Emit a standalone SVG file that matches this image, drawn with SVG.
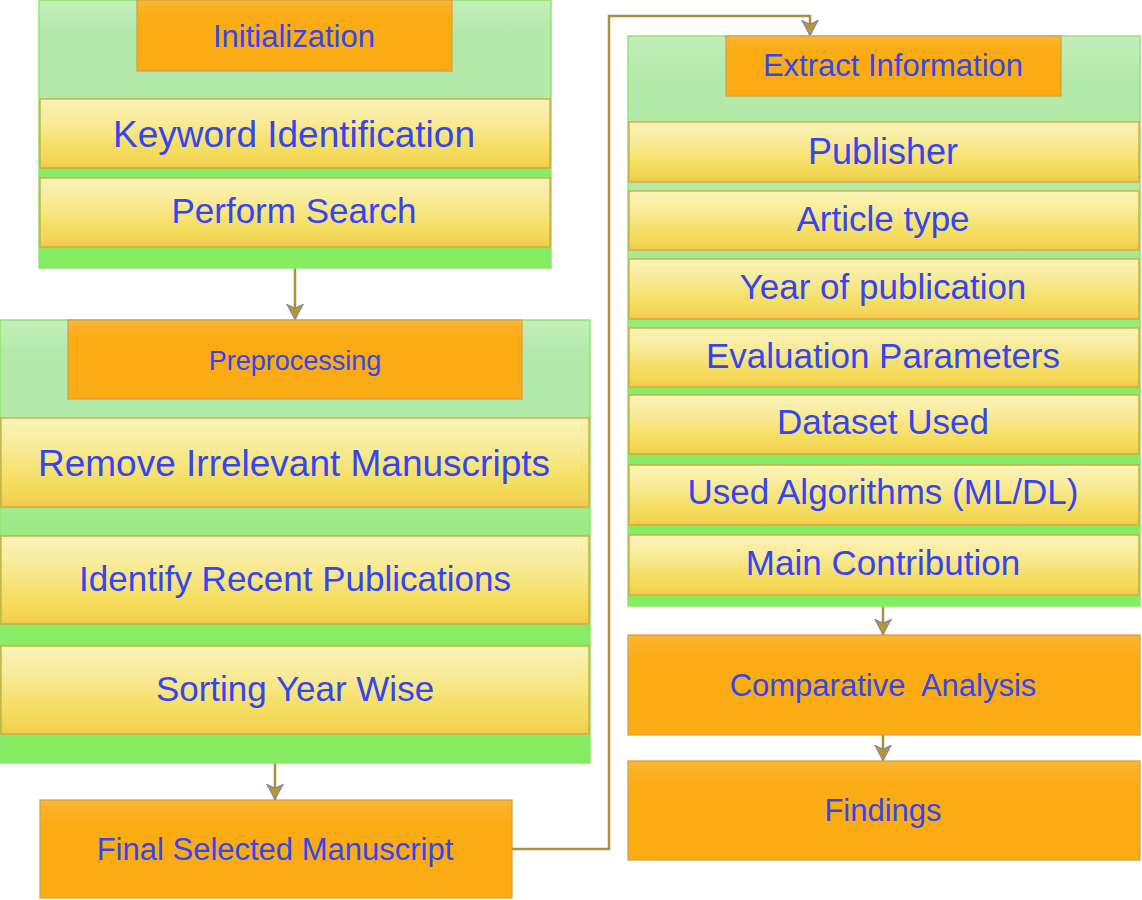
<svg xmlns="http://www.w3.org/2000/svg" width="1142" height="900" viewBox="0 0 1142 900">
  <defs>
    <!-- container backgrounds: pale green header fading to bright green -->
    <linearGradient id="gTop" x1="0" y1="0" x2="0" y2="1">
      <stop offset="0" stop-color="#c4eebb"/>
      <stop offset="0.12" stop-color="#b3e9a9"/>
      <stop offset="0.37" stop-color="#b3e9a9"/>
      <stop offset="0.6" stop-color="#88ec64"/>
      <stop offset="1" stop-color="#86ec62"/>
    </linearGradient>
    <linearGradient id="gPre" x1="0" y1="0" x2="0" y2="1">
      <stop offset="0" stop-color="#c4eebb"/>
      <stop offset="0.08" stop-color="#b3e9a9"/>
      <stop offset="0.22" stop-color="#b3e9a9"/>
      <stop offset="0.7" stop-color="#88ec64"/>
      <stop offset="1" stop-color="#86ec62"/>
    </linearGradient>
    <linearGradient id="gExt" x1="0" y1="0" x2="0" y2="1">
      <stop offset="0" stop-color="#c4eebb"/>
      <stop offset="0.08" stop-color="#b3e9a9"/>
      <stop offset="0.28" stop-color="#b3e9a9"/>
      <stop offset="0.62" stop-color="#88ec64"/>
      <stop offset="1" stop-color="#86ec62"/>
    </linearGradient>
    <!-- yellow step bands -->
    <linearGradient id="gBand" x1="0" y1="0" x2="0" y2="1">
      <stop offset="0" stop-color="#fbf3b9"/>
      <stop offset="0.3" stop-color="#f9ec9c"/>
      <stop offset="0.7" stop-color="#f5de62"/>
      <stop offset="0.88" stop-color="#f4d656"/>
      <stop offset="1" stop-color="#f2c94a"/>
    </linearGradient>
    <!-- orange title boxes -->
    <linearGradient id="gOrange" x1="0" y1="0" x2="0" y2="1">
      <stop offset="0" stop-color="#fbb632"/>
      <stop offset="0.25" stop-color="#fbab13"/>
      <stop offset="1" stop-color="#fbab13"/>
    </linearGradient>
    <marker id="head" viewBox="0 -9 17 18" refX="16" refY="0" markerWidth="17" markerHeight="18" markerUnits="userSpaceOnUse" orient="auto">
      <path d="M0,-8.5 L4,0 L0,8.5 L16,0 Z" fill="#b4953a" stroke="#5a5fd8" stroke-width="0.6"/>
    </marker>
    <style>
      .cont { stroke: #8fe66e; stroke-width: 1.5; }
      .band { fill: url(#gBand); stroke: #d6a43c; stroke-width: 1.3; }
      .box { fill: url(#gOrange); stroke: #d0a446; stroke-width: 1.3; }
      text { font-family: "Liberation Sans", Arial, sans-serif; fill: #3445f2; text-anchor: middle; }
      .big { font-size: 35px; }
      .mid { font-size: 31px; }
      .sm { font-size: 27px; }
      .conn { fill: none; stroke: #a8923e; stroke-width: 2.5; }
    </style>
  </defs>

  <!-- connectors -->
  <g id="connectors">
    <path class="conn" d="M295,268 V320" marker-end="url(#head)"/>
    <path class="conn" d="M275,763 V800" marker-end="url(#head)"/>
    <path class="conn" d="M512,849 H609 V16 H810 V36" marker-end="url(#head)"/>
    <path class="conn" d="M883,606 V635" marker-end="url(#head)"/>
    <path class="conn" d="M883,735 V761" marker-end="url(#head)"/>
  </g>

  <!-- Initialization block -->
  <g id="initialization">
    <rect class="cont" x="39" y="0" width="512" height="268" fill="url(#gTop)"/>
    <rect class="box" x="137" y="0" width="315" height="71"/>
    <text class="mid" x="294" y="47">Initialization</text>
  </g>
  <g id="keyword-identification">
    <rect class="band" x="40" y="99" width="510" height="69"/>
    <text x="294" y="147" style="font-size:37px">Keyword Identification</text>
  </g>
  <g id="perform-search">
    <rect class="band" x="40" y="178" width="510" height="69"/>
    <text class="big" x="294" y="223">Perform Search</text>
  </g>

  <!-- Preprocessing block -->
  <g id="preprocessing">
    <rect class="cont" x="0" y="320" width="590" height="443" fill="url(#gPre)"/>
    <rect class="box" x="68" y="320" width="454" height="79"/>
    <text class="sm" x="295" y="370">Preprocessing</text>
  </g>
  <g id="remove-irrelevant">
    <rect class="band" x="1" y="418" width="588" height="89"/>
    <text x="294" y="476" style="font-size:37px">Remove Irrelevant Manuscripts</text>
  </g>
  <g id="identify-recent">
    <rect class="band" x="1" y="536" width="588" height="88"/>
    <text class="big" x="295" y="591">Identify Recent Publications</text>
  </g>
  <g id="sorting-year-wise">
    <rect class="band" x="1" y="646" width="588" height="88"/>
    <text class="big" x="295" y="701">Sorting Year Wise</text>
  </g>

  <!-- Final selection -->
  <g id="final-selected">
    <rect class="box" x="40" y="800" width="472" height="98"/>
    <text class="mid" x="275" y="860">Final Selected Manuscript</text>
  </g>

  <!-- Extract Information block -->
  <g id="extract-information">
    <rect class="cont" x="628" y="36" width="512" height="570" fill="url(#gExt)"/>
    <rect class="box" x="726" y="36" width="335" height="60"/>
    <text class="mid" x="893" y="76">Extract Information</text>
  </g>
  <g id="publisher">
    <rect class="band" x="629" y="122" width="510" height="60"/>
    <text x="883" y="164" style="font-size:36px">Publisher</text>
  </g>
  <g id="article-type">
    <rect class="band" x="629" y="191" width="510" height="59"/>
    <text class="big" x="883" y="231">Article type</text>
  </g>
  <g id="year-of-publication">
    <rect class="band" x="629" y="259" width="510" height="60"/>
    <text class="big" x="883" y="299">Year of publication</text>
  </g>
  <g id="evaluation-parameters">
    <rect class="band" x="629" y="328" width="510" height="59"/>
    <text class="big" x="883" y="368">Evaluation Parameters</text>
  </g>
  <g id="dataset-used">
    <rect class="band" x="629" y="395" width="510" height="59"/>
    <text class="big" x="883" y="434">Dataset Used</text>
  </g>
  <g id="used-algorithms">
    <rect class="band" x="629" y="465" width="510" height="60"/>
    <text class="big" x="883" y="504">Used Algorithms (ML/DL)</text>
  </g>
  <g id="main-contribution">
    <rect class="band" x="629" y="535" width="510" height="60"/>
    <text class="big" x="883" y="575">Main Contribution</text>
  </g>

  <!-- Analysis and results -->
  <g id="comparative-analysis">
    <rect class="box" x="628" y="635" width="512" height="100"/>
    <text class="mid" x="883" y="696" xml:space="preserve">Comparative  Analysis</text>
  </g>
  <g id="findings">
    <rect class="box" x="628" y="761" width="512" height="99"/>
    <text class="mid" x="883" y="821">Findings</text>
  </g>
</svg>
